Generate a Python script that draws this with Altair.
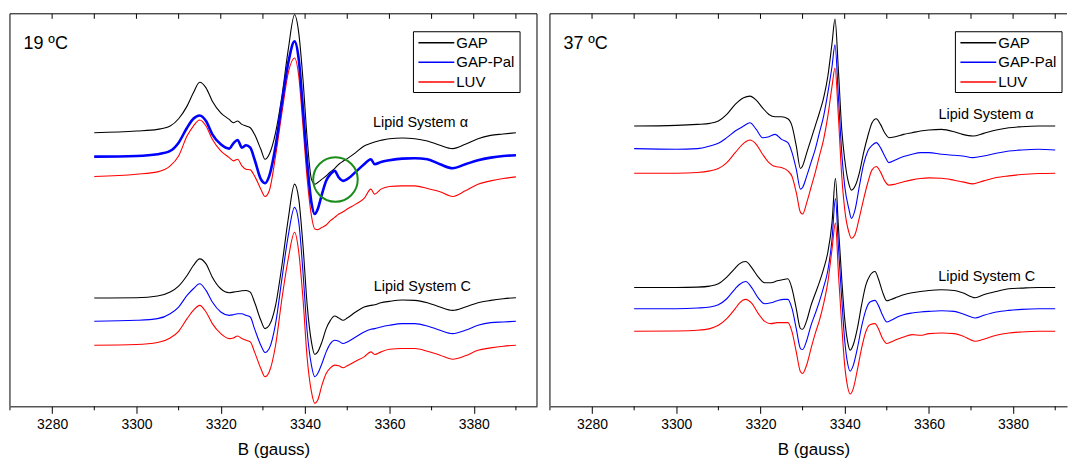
import altair as alt
import pandas as pd

FONT = "Liberation Sans"
SERIES = ["GAP", "GAP-Pal", "LUV"]
COLORS = ["#000000", "#0000ff", "#ff0000"]
MAJOR_TICKS = [3280, 3300, 3320, 3340, 3360, 3380]
MINOR_TICKS = [3270, 3290, 3310, 3330, 3350, 3370, 3390]
TOP_TICKS = [3280, 3290, 3300, 3310, 3320, 3330, 3340, 3350, 3360, 3370, 3380, 3390]

# ---------- 19 ºC panel (field in gauss, intensity in arbitrary units) ----------
L_B = [3290, 3300, 3305, 3308, 3310, 3312, 3313.5, 3315, 3316.5, 3318,
       3320, 3322, 3323, 3324, 3325, 3326, 3327, 3328, 3329.5, 3330.5,
       3331.5, 3333, 3334.5, 3336, 3337.5, 3338.5, 3339.5, 3340.5, 3341.5, 3342.3,
       3343, 3344, 3345, 3346, 3347, 3348, 3349, 3350, 3352, 3354,
       3355.6, 3356.5, 3358, 3360, 3363, 3366, 3369, 3372, 3375, 3378,
       3381, 3384, 3387, 3390]
L_A_GAP = [82.5, 83.0, 83.5, 84.5, 86.7, 90.5, 94.5, 97.7, 96.0, 92.0,
           88.5, 86.5, 85.5, 86.0, 85.0, 84.5, 84.0, 82.0, 77.5, 74.5,
           76.0, 82.5, 93.5, 107.5, 118.0, 112.5, 98.5, 80.5, 68.5, 67.0,
           67.5, 68.5, 69.5, 70.7, 71.7, 73.0, 73.9, 74.7, 76.5, 78.5,
           79.3, 79.7, 80.2, 80.7, 80.9, 80.7, 80.0, 78.7, 77.7, 79.0,
           80.7, 81.7, 82.1, 82.5]
L_A_PAL = [75.3, 75.5, 76.0, 77.0, 79.5, 84.0, 86.7, 87.7, 86.0, 82.0,
           79.0, 77.7, 79.3, 80.3, 78.0, 78.7, 78.0, 74.5, 68.5, 67.3,
           69.5, 78.5, 91.5, 103.5, 110.0, 104.5, 89.5, 73.5, 61.5, 58.0,
           59.5, 64.0, 68.0, 70.0, 71.0, 69.0, 68.0, 68.5, 70.7, 73.0,
           74.5, 73.0, 73.7, 74.2, 74.7, 74.8, 74.5, 73.0, 71.8, 73.0,
           74.2, 75.0, 75.5, 75.7]
L_A_LUV = [69.3, 70.0, 70.7, 72.5, 75.5, 81.5, 84.5, 86.3, 84.5, 80.5,
           77.0, 75.0, 74.0, 74.5, 72.5, 71.5, 71.3, 69.5, 65.5, 63.3,
           65.0, 75.5, 88.5, 100.5, 105.0, 99.5, 84.5, 68.5, 57.5, 53.5,
           53.3, 54.0, 54.7, 56.0, 57.0, 58.0, 58.7, 59.5, 61.0, 62.7,
           65.5, 64.0, 65.5, 66.3, 66.5, 66.5, 65.7, 64.7, 63.3, 65.0,
           67.0, 68.0, 68.7, 69.2]
L_C_GAP = [32.7, 32.8, 33.3, 34.5, 36.3, 39.5, 42.5, 44.5, 43.0, 39.0,
           35.5, 34.3, 34.5, 34.7, 34.9, 35.0, 34.5, 31.5, 26.0, 23.5,
           24.5, 30.5, 42.5, 56.5, 67.0, 62.5, 48.5, 30.5, 19.5, 15.7,
           16.5, 19.5, 23.5, 26.0, 27.3, 26.7, 26.0, 26.7, 28.5, 30.0,
           30.5, 30.7, 31.3, 31.7, 32.1, 32.0, 31.3, 30.0, 29.0, 30.0,
           31.3, 32.0, 32.5, 32.8]
L_C_PAL = [25.7, 26.0, 26.5, 28.0, 30.0, 33.5, 35.5, 37.0, 35.0, 31.5,
           28.5, 27.5, 27.7, 28.0, 28.0, 27.5, 27.0, 23.5, 18.5, 16.3,
           17.5, 25.0, 38.5, 51.5, 60.0, 55.5, 40.5, 22.5, 12.5, 9.0,
           10.0, 13.0, 16.5, 19.0, 20.0, 19.7, 19.0, 19.5, 21.0, 22.5,
           23.3, 23.5, 24.0, 24.5, 25.0, 25.0, 24.3, 23.0, 22.0, 23.0,
           24.5, 25.3, 25.5, 25.7]
L_C_LUV = [18.5, 18.7, 19.3, 20.7, 22.7, 26.5, 29.0, 30.5, 28.5, 25.0,
           22.0, 20.5, 20.7, 21.3, 20.5, 20.0, 19.5, 16.5, 11.5, 9.0,
           10.5, 18.5, 32.5, 44.5, 52.5, 46.5, 32.5, 14.5, 4.5, 1.0,
           2.0, 6.5, 10.0, 11.7, 12.5, 12.3, 11.7, 12.3, 13.7, 15.0,
           16.5, 15.7, 16.5, 17.3, 17.5, 17.5, 16.7, 15.5, 14.3, 15.3,
           17.0, 17.7, 18.2, 18.5]

# ---------- 37 ºC panel ----------
R_A_B = [3290, 3300, 3305, 3308, 3310, 3312, 3314, 3316, 3317.5, 3319,
         3320.5, 3322, 3323.5, 3325, 3326.5, 3327.5, 3328.5, 3329.5, 3330, 3331,
         3332, 3333, 3334, 3335, 3336, 3337, 3337.7, 3338.5, 3339.3, 3340,
         3341, 3341.6, 3342.5, 3343.5, 3344.5, 3345.5, 3346.5, 3347.5, 3348.5, 3349.5,
         3350.5, 3352, 3354, 3356, 3358, 3360, 3363, 3366, 3368, 3370.5,
         3373, 3376, 3379, 3382, 3386, 3390]
R_A_GAP = [84.5, 84.7, 85.0, 85.3, 86.0, 88.0, 91.0, 93.0, 93.5, 92.3,
           90.0, 88.0, 87.3, 87.3, 86.7, 84.5, 78.5, 71.7, 72.5, 76.5,
           80.5, 84.5, 88.5, 93.0, 99.5, 109.5, 116.7, 101.5, 83.5, 74.5,
           67.0, 65.2, 66.5, 70.5, 76.5, 81.5, 85.5, 86.7, 85.0, 82.5,
           81.0, 81.3, 82.0, 82.5, 83.0, 83.3, 83.5, 82.8, 82.0, 81.5,
           82.3, 83.3, 84.0, 84.3, 84.5, 84.5]
R_A_PAL = [77.7, 77.5, 77.7, 78.5, 79.3, 81.0, 83.0, 84.5, 85.5, 83.5,
           81.0, 81.3, 82.0, 80.5, 79.5, 76.5, 71.5, 65.5, 66.0, 69.5,
           73.5, 77.5, 82.5, 87.5, 94.5, 102.5, 109.0, 93.5, 76.5, 66.5,
           59.5, 56.7, 59.5, 66.5, 73.0, 77.0, 78.7, 79.5, 78.0, 75.5,
           73.5, 74.3, 75.3, 76.0, 76.5, 76.5, 76.0, 75.7, 75.5, 75.0,
           75.5, 76.3, 77.0, 77.3, 77.5, 77.3]
R_A_LUV = [70.3, 70.3, 70.5, 71.0, 71.7, 73.5, 76.5, 79.3, 80.3, 79.0,
           76.0, 73.5, 72.3, 72.0, 71.0, 69.3, 64.5, 58.5, 58.0, 61.5,
           66.0, 70.5, 75.5, 80.5, 87.5, 96.5, 102.0, 87.5, 69.5, 59.5,
           52.5, 50.7, 52.0, 57.0, 62.5, 67.5, 71.3, 72.3, 70.7, 68.0,
           66.7, 67.0, 67.7, 68.3, 68.7, 68.9, 68.8, 68.2, 67.7, 67.1,
           68.0, 69.0, 69.5, 69.9, 70.2, 70.3]
R_C_B = [3290, 3300, 3305, 3308, 3310, 3312, 3314, 3315, 3316.5, 3318,
         3319.5, 3321, 3322.5, 3324, 3325.5, 3326.5, 3327.5, 3328.5, 3329.5, 3330,
         3331, 3332, 3333, 3334, 3335, 3336, 3337, 3337.8, 3338.5, 3339.3,
         3340, 3340.7, 3341.3, 3342, 3343, 3344, 3345, 3346, 3347.2, 3348,
         3349, 3350, 3351, 3352.5, 3354, 3356, 3358, 3360, 3363, 3366,
         3368, 3371, 3373, 3376, 3379, 3382, 3386, 3390]
R_C_GAP = [35.9, 35.9, 36.0, 36.3, 37.0, 39.0, 41.7, 43.0, 43.7, 41.7,
           39.0, 37.3, 37.3, 37.9, 38.3, 38.5, 35.5, 29.5, 23.5, 23.3,
           26.0, 30.5, 34.0, 37.5, 41.5, 46.5, 55.5, 68.8, 54.5, 38.5,
           26.5, 19.5, 17.0, 18.5, 23.5, 30.5, 36.5, 39.5, 40.7, 38.5,
           34.5, 31.9, 32.3, 33.0, 33.7, 34.3, 34.7, 35.0, 35.2, 35.0,
           34.3, 32.8, 33.7, 34.7, 35.5, 35.7, 35.9, 35.9]
R_C_PAL = [29.5, 29.5, 29.7, 30.0, 30.7, 32.5, 35.5, 36.8, 37.7, 35.7,
           32.7, 31.0, 31.3, 31.9, 32.3, 32.3, 29.5, 23.5, 17.5, 17.2,
           20.0, 24.5, 28.0, 31.7, 36.0, 41.0, 50.5, 62.7, 48.5, 32.5,
           20.0, 13.0, 10.7, 12.3, 17.5, 24.0, 29.0, 31.5, 32.0, 30.5,
           27.5, 25.5, 26.0, 27.0, 27.7, 28.2, 28.5, 28.7, 28.9, 28.7,
           28.0, 26.7, 27.5, 28.5, 29.0, 29.3, 29.5, 29.5]
R_C_LUV = [22.7, 22.8, 23.0, 23.5, 24.5, 26.5, 29.5, 31.2, 32.3, 31.0,
           28.0, 25.7, 25.0, 25.3, 25.3, 25.3, 22.5, 16.5, 10.5, 10.0,
           12.7, 17.5, 22.0, 26.0, 31.0, 37.5, 47.5, 55.3, 40.5, 24.5,
           12.5, 6.0, 3.8, 5.3, 11.0, 17.5, 22.5, 24.7, 25.0, 23.5,
           20.5, 19.0, 19.5, 20.3, 21.0, 21.7, 21.5, 22.0, 22.2, 22.0,
           21.3, 19.7, 20.3, 21.5, 22.2, 22.5, 22.7, 22.7]

# annotations (B in gauss, intensity)
TEMP_LABELS = ["19 \u00baC", "37 \u00baC"]
LIPID_LABELS = ["Lipid System \u03b1", "Lipid System C"]
LEFT_LIPID_B = [3356.1, 3356.3]
LEFT_LIPID_I = [84.2, 34.7]
RIGHT_LIPID_B = [3362.3, 3362.2]
RIGHT_LIPID_I = [86.5, 37.8]
CIRCLE_B = [3347.2]
CIRCLE_I = [68.4]

H = 394
Y_DOMAIN = [0.1, 118.3]
ONE = pd.DataFrame({"k": [0]})


def spectra(b_alpha, alpha, b_c, c):
    rows = []
    for sys_name, bs, curves in (("alpha", b_alpha, alpha), ("C", b_c, c)):
        for s, vals in zip(SERIES, curves):
            for b, v in zip(bs, vals):
                rows.append({"B": b, "I": v, "series": s, "system": sys_name})
    return pd.DataFrame(rows)


def legend_layers(x0):
    out = [alt.Chart(ONE).mark_rect(fill="white", stroke="black", strokeWidth=1).encode(
        x=alt.value(x0), x2=alt.value(x0 + 107), y=alt.value(18), y2=alt.value(79))]
    for i, (name, col) in enumerate(zip(SERIES, COLORS)):
        py = 29 + i * 19.7
        out.append(alt.Chart(ONE).mark_rule(strokeWidth=1.5, color=col).encode(
            x=alt.value(x0 + 5), x2=alt.value(x0 + 41), y=alt.value(py)))
        out.append(alt.Chart(ONE).mark_text(
            align="left", baseline="middle", font=FONT, fontSize=15, color="black",
            text=name).encode(x=alt.value(x0 + 43), y=alt.value(py)))
    return out


def panel(df, xmax, width, temp_label, lipid_b, lipid_i, legend_x,
          right_frame, title_x, extra_layers=()):
    xs = alt.Scale(domain=[3270, xmax], nice=False, zero=False)
    ys = alt.Scale(domain=Y_DOMAIN, nice=False, zero=False)
    lines = alt.Chart(df).mark_line(strokeWidth=1.1, interpolate="monotone").encode(
        x=alt.X("B:Q", scale=xs, axis=alt.Axis(
            values=MAJOR_TICKS, format="d", tickSize=7, tickColor="black",
            domainColor="black", grid=False, labelFont=FONT, labelFontSize=14,
            labelColor="black", labelPadding=4, title="B (gauss)",
            titleFont=FONT, titleFontSize=17, titleFontWeight="normal",
            titleColor="black", titlePadding=10, titleX=title_x)),
        y=alt.Y("I:Q", scale=ys, axis=None),
        color=alt.Color("series:N", scale=alt.Scale(domain=SERIES, range=COLORS),
                        legend=None),
        detail="system:N",
    )
    minor = alt.Chart(pd.DataFrame({"B": MINOR_TICKS})).mark_rule(color="black").encode(
        x=alt.X("B:Q", scale=xs, axis=None), y=alt.value(H), y2=alt.value(H + 4))
    top = alt.Chart(pd.DataFrame({"B": TOP_TICKS})).mark_rule(color="black").encode(
        x=alt.X("B:Q", scale=xs, axis=None), y=alt.value(0), y2=alt.value(5))
    frame_top = alt.Chart(ONE).mark_rule(color="black").encode(
        x=alt.value(0), x2=alt.value(width), y=alt.value(0))
    frame_left = alt.Chart(ONE).mark_rule(color="black").encode(
        x=alt.value(0), y=alt.value(0), y2=alt.value(H))
    temp = alt.Chart(pd.DataFrame({"B": [3273.2], "I": [107.8], "t": [temp_label]})).mark_text(
        align="left", baseline="alphabetic", font=FONT, fontSize=18, color="black").encode(
        x=alt.X("B:Q", scale=xs, axis=None), y=alt.Y("I:Q", scale=ys, axis=None), text="t:N")
    lip = alt.Chart(pd.DataFrame({"B": lipid_b, "I": lipid_i, "t": LIPID_LABELS})).mark_text(
        align="left", baseline="alphabetic", font=FONT, fontSize=14.5, color="black").encode(
        x=alt.X("B:Q", scale=xs, axis=None), y=alt.Y("I:Q", scale=ys, axis=None), text="t:N")
    layers = [lines] + [l(xs, ys) for l in extra_layers] + [
        minor, top, frame_top, frame_left, temp, lip]
    if right_frame:
        layers.append(alt.Chart(ONE).mark_rule(color="black").encode(
            x=alt.value(width), y=alt.value(0), y2=alt.value(H)))
    layers += legend_layers(legend_x)
    return alt.layer(*layers).resolve_axis(x="independent").properties(
        width=width, height=H)


left_df = spectra(L_B, [L_A_GAP, L_A_PAL, L_A_LUV], L_B, [L_C_GAP, L_C_PAL, L_C_LUV])
right_df = spectra(R_A_B, [R_A_GAP, R_A_PAL, R_A_LUV], R_C_B, [R_C_GAP, R_C_PAL, R_C_LUV])


def thick_blue(xs, ys):
    d = pd.DataFrame({"B": L_B, "I": L_A_PAL})
    return alt.Chart(d).mark_line(strokeWidth=2.6, color="#0000ff",
                                  interpolate="monotone").encode(
        x=alt.X("B:Q", scale=xs, axis=None), y=alt.Y("I:Q", scale=ys, axis=None))


def circle(xs, ys):
    d = pd.DataFrame({"B": CIRCLE_B, "I": CIRCLE_I})
    return alt.Chart(d).mark_point(shape="circle", filled=False, size=2000,
                                   color="#1a8c1a", strokeWidth=2, opacity=1).encode(
        x=alt.X("B:Q", scale=xs, axis=None), y=alt.Y("I:Q", scale=ys, axis=None))


left = panel(left_df, 3395.0, 529, TEMP_LABELS[0], LEFT_LIPID_B, LEFT_LIPID_I, 405,
             True, 264.5, extra_layers=(thick_blue, circle))
right = panel(right_df, 3392.8, 519, TEMP_LABELS[1], RIGHT_LIPID_B, RIGHT_LIPID_I, 407,
              False, 264.5)

chart = alt.hconcat(left, right, spacing=11).properties(
    padding={"left": 9, "top": 11, "right": 0, "bottom": 0},
    background="white").configure_view(strokeWidth=0, strokeOpacity=0)

chart.save("out.html", embed_options={"renderer": "svg", "actions": False})
